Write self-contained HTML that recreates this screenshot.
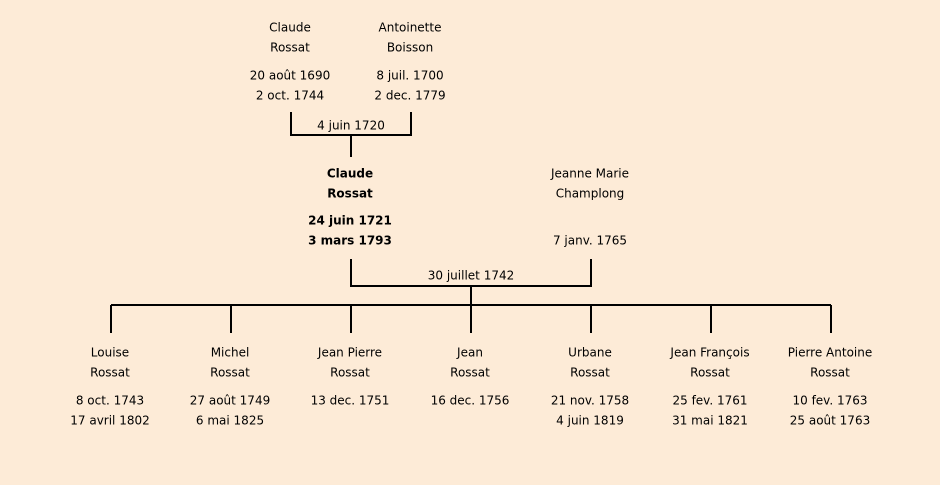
<!DOCTYPE html>
<html><head><meta charset="utf-8"><style>
html,body{margin:0;padding:0;background:#fdebd7;}
svg{display:block}
text{font-family:"Comic Sans MS","DejaVu Sans",sans-serif;font-size:12px;fill:#000;text-anchor:middle;dominant-baseline:middle}
.b{font-weight:bold}
</style></head><body>
<svg width="940" height="485" viewBox="0 0 940 485">
<rect width="940" height="485" fill="#fdebd7"/>
<g stroke="#000" stroke-width="2" fill="none">
<path d="M291 112V135H411V112M351 135V157"/>
<path d="M351 259V286H591V259M471 286V305"/>
<path d="M111 305H831M111 305V333M231 305V333M351 305V333M471 305V333M591 305V333M711 305V333M831 305V333"/>
</g>
<g transform="translate(0,1)">
<text x="290" y="27">Claude</text><text x="290" y="47">Rossat</text>
<text x="290" y="75">20 août 1690</text><text x="290" y="95">2 oct. 1744</text>
<text x="410" y="27">Antoinette</text><text x="410" y="47">Boisson</text>
<text x="410" y="75">8 juil. 1700</text><text x="410" y="95">2 dec. 1779</text>
<text x="351" y="125">4 juin 1720</text>
<text class="b" x="350" y="173">Claude</text><text class="b" x="350" y="193">Rossat</text>
<text class="b" x="350" y="220">24 juin 1721</text><text class="b" x="350" y="240">3 mars 1793</text>
<text x="590" y="173">Jeanne Marie</text><text x="590" y="193">Champlong</text>
<text x="590" y="240">7 janv. 1765</text>
<text x="471" y="275">30 juillet 1742</text>
<text x="110" y="352">Louise</text><text x="110" y="372">Rossat</text><text x="110" y="400">8 oct. 1743</text><text x="110" y="420">17 avril 1802</text>
<text x="230" y="352">Michel</text><text x="230" y="372">Rossat</text><text x="230" y="400">27 août 1749</text><text x="230" y="420">6 mai 1825</text>
<text x="350" y="352">Jean Pierre</text><text x="350" y="372">Rossat</text><text x="350" y="400">13 dec. 1751</text>
<text x="470" y="352">Jean</text><text x="470" y="372">Rossat</text><text x="470" y="400">16 dec. 1756</text>
<text x="590" y="352">Urbane</text><text x="590" y="372">Rossat</text><text x="590" y="400">21 nov. 1758</text><text x="590" y="420">4 juin 1819</text>
<text x="710" y="352">Jean François</text><text x="710" y="372">Rossat</text><text x="710" y="400">25 fev. 1761</text><text x="710" y="420">31 mai 1821</text>
<text x="830" y="352">Pierre Antoine</text><text x="830" y="372">Rossat</text><text x="830" y="400">10 fev. 1763</text><text x="830" y="420">25 août 1763</text>
</g>
</svg>
</body></html>
